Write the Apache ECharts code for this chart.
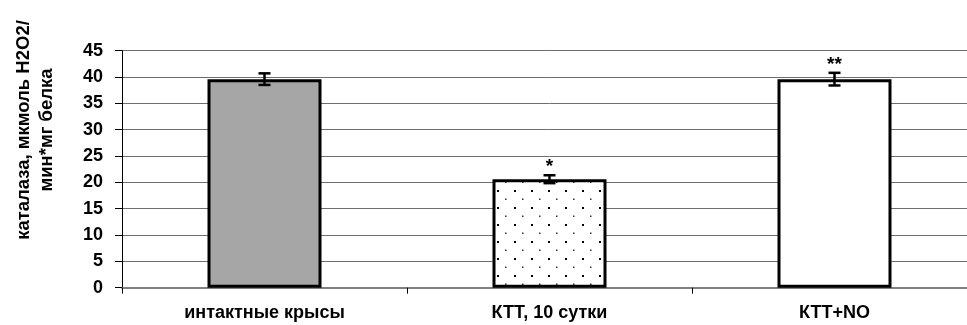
<!DOCTYPE html>
<html><head><meta charset="utf-8">
<script src="https://cdn.jsdelivr.net/npm/echarts@6/dist/echarts.min.js"></script>
<style>html,body{margin:0;padding:0;background:#fff;overflow:hidden}#c{width:990px;height:325px}</style>
</head><body><div id="c"></div>
<script>
const categories = ['интактные крысы', 'КТТ, 10 сутки', 'КТТ+NO'];
const values = [39.6, 20.6, 39.6];
const errors = [1.1, 0.75, 1.2];
const marks = ['', '*', '**'];
const yTicks = [0, 5, 10, 15, 20, 25, 30, 35, 40, 45];
const yTitle = 'каталаза, мкмоль H2O2/\nмин*мг белка';

const FONT = '"Liberation Sans", Arial, sans-serif';

function dotPattern() {
  const c = document.createElement('canvas');
  c.width = 17; c.height = 17;
  const g = c.getContext('2d');
  g.fillStyle = '#fff'; g.fillRect(0, 0, 17, 17);
  g.fillStyle = '#000';
  g.fillRect(4, 3, 2, 2);
  g.fillStyle = '#333';
  g.fillRect(12, 11.5, 1.5, 1.5);
  return c;
}

const chart = echarts.init(document.getElementById('c'), null, {renderer: 'canvas'});
const fills = ['#a6a6a6', {image: dotPattern(), repeat: 'repeat'}, '#ffffff'];

chart.setOption({
  animation: false,
  grid: {left: 122, right: 13, top: 50.7, bottom: 37.3, containLabel: false},
  xAxis: {
    type: 'category', data: categories,
    axisLine: {lineStyle: {color: '#808080', width: 2}},
    axisTick: {show: true, length: 6, lineStyle: {color: '#000', width: 1}},
    axisLabel: {margin: 16, color: '#000', fontWeight: 'bold', fontSize: 18, fontFamily: FONT},
  },
  yAxis: {
    type: 'value', min: 0, max: 45, interval: 5,
    axisLine: {show: true, lineStyle: {color: '#000', width: 1}},
    axisTick: {show: true, length: 7, lineStyle: {color: '#000'}},
    axisLabel: {margin: 19, color: '#000', fontWeight: 'bold', fontSize: 18, fontFamily: FONT,
      formatter: v => yTicks.includes(v) ? String(v) : ''},
    splitLine: {lineStyle: {color: '#6e6e6e', width: 1}},
  },
  graphic: [{
    type: 'text', rotation: Math.PI / 2, x: 35, y: 130,
    style: {text: yTitle, fill: '#000', font: 'bold 18.5px ' + FONT, textAlign: 'center',
      textVerticalAlign: 'middle', lineHeight: 23}
  }],
  series: [{
    type: 'bar', barWidth: 114,
    data: values.map((v, i) => ({value: v, itemStyle: {color: fills[i]}})),
    itemStyle: {borderColor: '#000', borderWidth: 3},
    z: 2
  }, {
    type: 'custom', z: 5,
    data: values.map((v, i) => [i, v, errors[i], marks[i]]),
    renderItem: (params, api) => {
      const x = api.coord([api.value(0), 0])[0];
      const v = api.value(1), e = api.value(2);
      const top = api.coord([api.value(0), v + e])[1];
      const bot = api.coord([api.value(0), v - e])[1];
      const hw = 6;
      const ls = {stroke: '#000', lineWidth: 2.5};
      const children = [
        {type: 'line', shape: {x1: x, y1: top, x2: x, y2: bot}, style: ls},
        {type: 'line', shape: {x1: x - hw, y1: top, x2: x + hw, y2: top}, style: ls},
        {type: 'line', shape: {x1: x - hw, y1: bot, x2: x + hw, y2: bot}, style: ls},
      ];
      const m = marks[params.dataIndex];
      if (m) children.push({type: 'text', style: {text: m, x: x, y: top + 1,
        textAlign: 'center', textVerticalAlign: 'bottom', fill: '#000',
        font: 'bold 19px ' + FONT}});
      return {type: 'group', children};
    }
  }]
});
</script></body></html>
